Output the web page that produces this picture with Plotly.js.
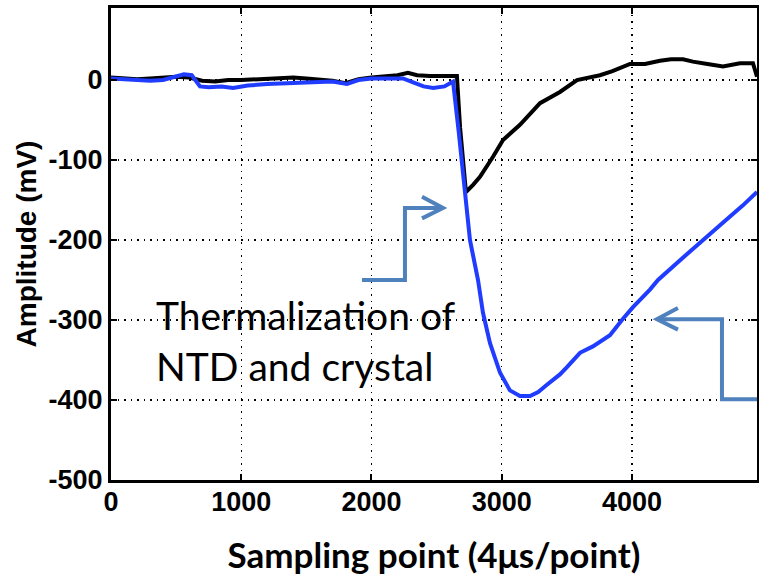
<!DOCTYPE html>
<html>
<head>
<meta charset="utf-8">
<script src="https://cdn.plot.ly/plotly-3.0.1.min.js"></script>
<style>html,body{margin:0;padding:0;background:#fff;}#chart{width:759px;height:579px;}</style>
</head>
<body>
<div id="chart"></div>
<script>
// Black trace (reference signal)
const blackX = [0, 100, 200, 300, 400, 500, 600, 700, 800, 900, 1000, 1100, 1200, 1300, 1400, 1500, 1600, 1700, 1800, 1900, 2000, 2100, 2200, 2280, 2350, 2450, 2550, 2656, 2680, 2725, 2780, 2833, 2933, 3010, 3140, 3294, 3447, 3578, 3754, 3850, 3985, 4100, 4215, 4300, 4392, 4468, 4580, 4699, 4829, 4929, 4960];
const blackY = [3, 2, 1, 2, 3, 4, 3, -1, -2, 0, 0, 1, 2, 3, 3, 2, 1, -1, -4, 1, 3, 4, 6, 9, 6, 5, 5, 5, -59, -140, -131, -121, -96, -75, -56, -29, -15, 0, 6, 11, 20, 20, 24, 26, 26, 23, 20, 17, 21, 21, 4];
// Blue trace
const blueX = [0, 100, 200, 300, 400, 500, 560, 620, 683, 750, 850, 937, 1050, 1200, 1400, 1550, 1700, 1812, 1900, 2000, 2100, 2242, 2320, 2400, 2474, 2560, 2603, 2626, 2670, 2718, 2756, 2818, 2856, 2910, 2987, 3063, 3140, 3217, 3280, 3347, 3447, 3501, 3601, 3700, 3831, 3923, 4008, 4138, 4200, 4350, 4522, 4700, 4850, 4960];
const blueY = [2, 1, 0, -1, 0, 4, 7, 6, -8, -9, -8, -10, -7, -5, -4, -3, -2, -5, 0, 2, 2, 2, -3, -8, -10, -8, -4, -2, -65, -141, -200, -250, -291, -329, -366, -388, -395, -395, -390, -381, -368, -359, -341, -333, -319, -300, -284, -262, -250, -228, -203, -178, -157, -140];

const xTicks = [0, 1000, 2000, 3000, 4000];
const yTicks = [-500, -400, -300, -200, -100, 0];
const noteText = "Thermalization of<br>NTD and crystal";
const xTitle = "Sampling point (4μs/point)";
const yTitle = "Amplitude (mV)";

const arrowColor = "#4f81bd";
const tickFont = {family: "Liberation Sans, Arial, sans-serif", size: 27, color: "#000", weight: "bold"};

const traces = [
  {x: blackX, y: blackY, mode: "lines", line: {color: "#000000", width: 4}, hoverinfo: "skip"},
  {x: blueX, y: blueY, mode: "lines", line: {color: "#1f3cff", width: 4}, hoverinfo: "skip"}
];

const axisCommon = {
  showline: true, linecolor: "#000", linewidth: 3, mirror: "allticks",
  ticks: "inside", ticklen: 6, tickwidth: 2, tickcolor: "#000",
  showgrid: true, gridcolor: "#000", gridwidth: 1.2, griddash: "1.5px,5px",
  zeroline: false, tickfont: tickFont, fixedrange: true
};

const layout = {
  width: 759, height: 579,
  margin: {l: 111, r: 2, t: 8, b: 99},
  paper_bgcolor: "#fff", plot_bgcolor: "#fff",
  showlegend: false,
  xaxis: Object.assign({}, axisCommon, {
    range: [0, 4960], tickvals: xTicks, ticktext: xTicks.map(String), ticklabelstandoff: -4,
    title: {text: xTitle, standoff: 28, font: {family: "Lato, Open Sans, sans-serif", size: 35, color: "#000", weight: "bold"}}
  }),
  yaxis: Object.assign({}, axisCommon, {
    range: [-500, 90], tickvals: yTicks, ticktext: yTicks.map(String),
    title: {text: yTitle, standoff: 4, font: {family: "Liberation Sans, Arial, sans-serif", size: 28, color: "#000", weight: "bold"}}
  }),
  annotations: [
    {x: 330, y: -263, xref: "x", yref: "y", text: noteText, showarrow: false, xanchor: "left", yanchor: "top", align: "left",
     font: {family: "Lato, sans-serif", size: 39, color: "#000"}}
  ],
  shapes: [
    {type: "path", xref: "x", yref: "y", path: "M 1927,-250 L 2257,-250 L 2257,-160 L 2549,-160", line: {color: arrowColor, width: 4}},
    {type: "path", xref: "x", yref: "y", path: "M 2388,-146 L 2549,-160 L 2388,-173", line: {color: arrowColor, width: 4}},
    {type: "path", xref: "x", yref: "y", path: "M 4960,-399 L 4691,-399 L 4691,-299 L 4192,-299", line: {color: arrowColor, width: 4}},
    {type: "path", xref: "x", yref: "y", path: "M 4353,-285 L 4192,-299 L 4353,-312", line: {color: arrowColor, width: 4}}
  ]
};

Plotly.newPlot("chart", traces, layout, {displayModeBar: false, staticPlot: true});
</script>
</body>
</html>
